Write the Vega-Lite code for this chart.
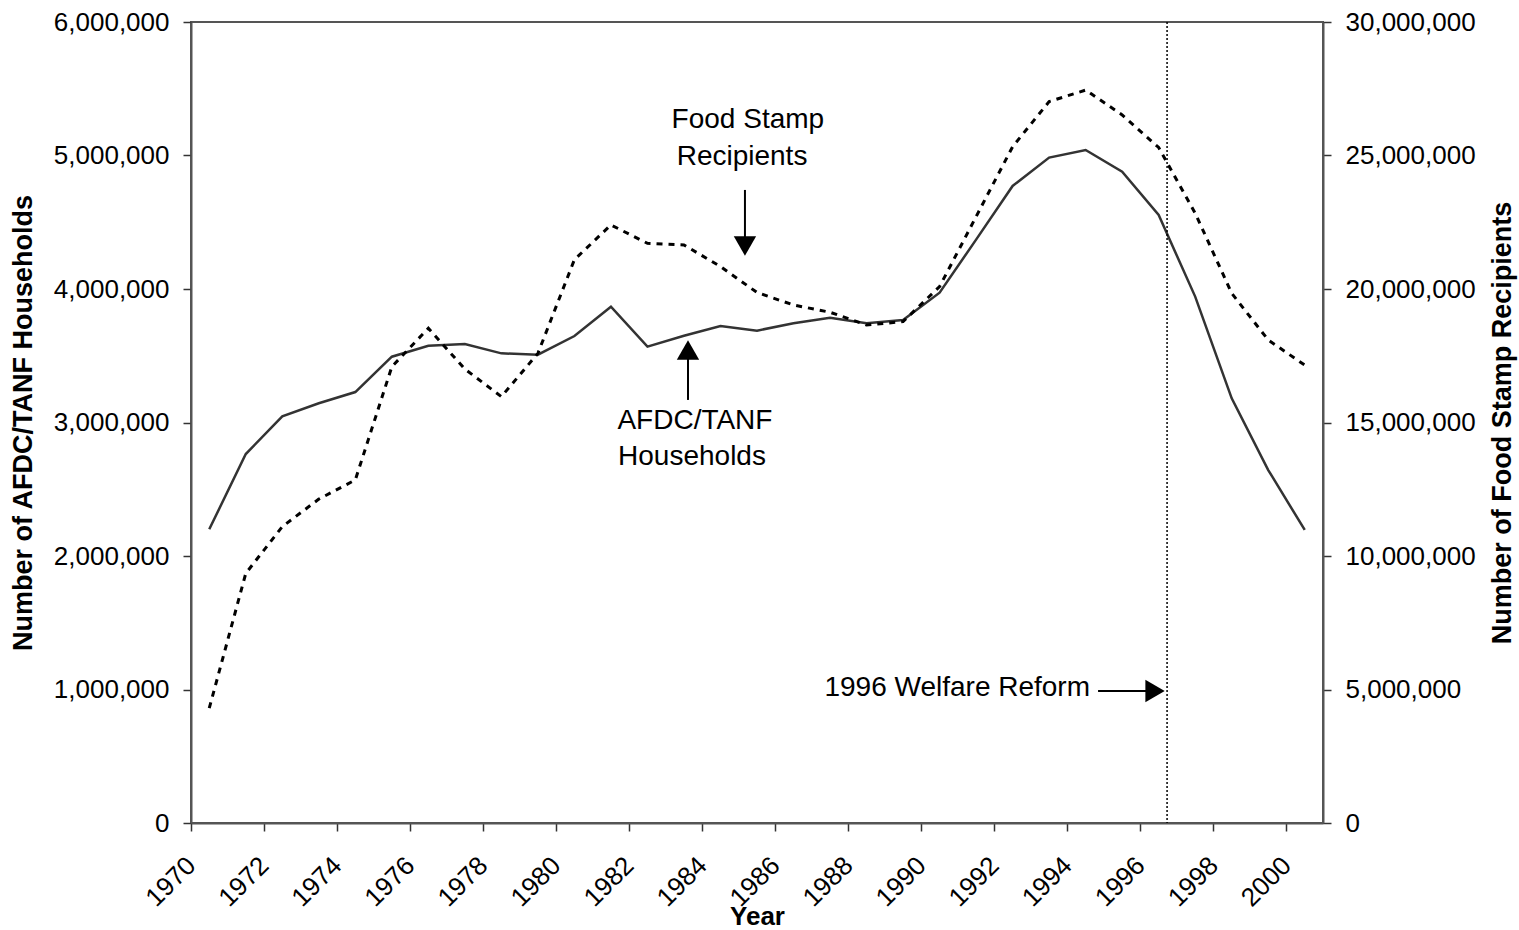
{
  "$schema": "https://vega.github.io/schema/vega-lite/v6.json",
  "width": 1132,
  "height": 801,
  "autosize": {"type": "none"},
  "padding": {"left": 191, "top": 22, "right": 196, "bottom": 107},
  "background": "white",
  "config": {
    "font": "Liberation Sans",
    "view": {"stroke": "#555555", "strokeWidth": 2},
    "axis": {
      "labelFont": "Liberation Sans",
      "titleFont": "Liberation Sans",
      "labelFontSize": 26,
      "titleFontSize": 27,
      "titleFontWeight": "bold",
      "labelColor": "#000000",
      "titleColor": "#000000",
      "domainColor": "#555555",
      "domainWidth": 2,
      "tickColor": "#333333",
      "tickWidth": 1.5,
      "tickSize": 8,
      "grid": false,
      "labelOverlap": false,
      "labelBound": false,
      "labelFlush": false
    }
  },
  "datasets": {
    "main": [
      {"year": 1970, "afdc": 2200000, "food": 4300000},
      {"year": 1971, "afdc": 2764000, "food": 9350000},
      {"year": 1972, "afdc": 3046000, "food": 11100000},
      {"year": 1973, "afdc": 3144000, "food": 12130000},
      {"year": 1974, "afdc": 3228000, "food": 12850000},
      {"year": 1975, "afdc": 3493000, "food": 17090000},
      {"year": 1976, "afdc": 3575000, "food": 18530000},
      {"year": 1977, "afdc": 3588000, "food": 17000000},
      {"year": 1978, "afdc": 3518000, "food": 15970000},
      {"year": 1979, "afdc": 3508000, "food": 17590000},
      {"year": 1980, "afdc": 3648000, "food": 21100000},
      {"year": 1981, "afdc": 3867000, "food": 22400000},
      {"year": 1982, "afdc": 3568000, "food": 21710000},
      {"year": 1983, "afdc": 3650000, "food": 21650000},
      {"year": 1984, "afdc": 3723000, "food": 20840000},
      {"year": 1985, "afdc": 3688000, "food": 19870000},
      {"year": 1986, "afdc": 3743000, "food": 19400000},
      {"year": 1987, "afdc": 3785000, "food": 19130000},
      {"year": 1988, "afdc": 3743000, "food": 18650000},
      {"year": 1989, "afdc": 3768000, "food": 18780000},
      {"year": 1990, "afdc": 3972000, "food": 20090000},
      {"year": 1991, "afdc": 4370000, "food": 22710000},
      {"year": 1992, "afdc": 4772000, "food": 25330000},
      {"year": 1993, "afdc": 4984000, "food": 27020000},
      {"year": 1994, "afdc": 5041000, "food": 27450000},
      {"year": 1995, "afdc": 4879000, "food": 26520000},
      {"year": 1996, "afdc": 4554000, "food": 25300000},
      {"year": 1997, "afdc": 3943000, "food": 22840000},
      {"year": 1998, "afdc": 3181000, "food": 19840000},
      {"year": 1999, "afdc": 2644000, "food": 18090000},
      {"year": 2000, "afdc": 2195000, "food": 17150000}
    ],
    "reform": [{"year": 1996.23}],
    "labels": [
      {"year": 1984.75, "v": 5266000, "label": "Food Stamp"},
      {"year": 1984.59, "v": 4989000, "label": "Recipients"},
      {"year": 1983.30, "v": 3011000, "label": "AFDC/TANF"},
      {"year": 1983.22, "v": 2742000, "label": "Households"}
    ],
    "rlabel": [{"year": 1994.12, "v": 1011000, "label": "1996 Welfare Reform"}],
    "vshafts": [
      {"year": 1984.67, "v": 4742000, "v2": 4367000},
      {"year": 1983.11, "v": 3169000, "v2": 3506000}
    ],
    "hshafts": [{"year": 1994.34, "year2": 1995.76, "v": 989000}],
    "headsdown": [{"year": 1984.67, "v": 4322000}],
    "headsup": [{"year": 1983.11, "v": 3543000}],
    "headsright": [{"year": 1995.9, "v": 989000}]
  },
  "layer": [
    {
      "layer": [
        {
          "data": {"name": "main"},
          "mark": {"type": "line", "color": "#333333", "strokeWidth": 2.5},
          "encoding": {
            "x": {
              "field": "year", "type": "quantitative", "title": "Year",
              "scale": {"domain": [1969.5, 2000.5], "nice": false, "zero": false},
              "axis": {
                "values": [1969.5, 1970.5, 1971.5, 1972.5, 1973.5, 1974.5, 1975.5, 1976.5, 1977.5, 1978.5, 1979.5, 1980.5, 1981.5, 1982.5, 1983.5, 1984.5, 1985.5, 1986.5, 1987.5, 1988.5, 1989.5, 1990.5, 1991.5, 1992.5, 1993.5, 1994.5, 1995.5, 1996.5, 1997.5, 1998.5, 1999.5, 2000.5],
                "labelExpr": "(datum.value + 0.5) % 2 == 0 ? format(datum.value + 0.5, 'd') : ''",
                "labelAngle": -45,
                "labelAlign": "right",
                "labelBaseline": "middle",
                "labelPadding": 30,
                "titleFontSize": 26,
                "titlePadding": -8
              }
            },
            "y": {
              "field": "afdc", "type": "quantitative", "title": "Number of AFDC/TANF Households",
              "scale": {"domain": [0, 6000000], "nice": false},
              "axis": {
                "orient": "left",
                "values": [0, 1000000, 2000000, 3000000, 4000000, 5000000, 6000000],
                "format": ",d",
                "labelPadding": 14,
                "titlePadding": 16
              }
            }
          }
        },
        {
          "data": {"name": "reform"},
          "mark": {"type": "rule", "color": "#000000", "strokeWidth": 1.5, "strokeDash": [2, 2]},
          "encoding": {
            "x": {"field": "year", "type": "quantitative", "title": "Year"}
          }
        },
        {
          "data": {"name": "labels"},
          "mark": {"type": "text", "fontSize": 28, "align": "center", "baseline": "middle", "color": "#000000"},
          "encoding": {
            "x": {"field": "year", "type": "quantitative", "title": "Year"},
            "y": {"field": "v", "type": "quantitative", "title": "Number of AFDC/TANF Households"},
            "text": {"field": "label"}
          }
        },
        {
          "data": {"name": "rlabel"},
          "mark": {"type": "text", "fontSize": 28, "align": "right", "baseline": "middle", "color": "#000000"},
          "encoding": {
            "x": {"field": "year", "type": "quantitative", "title": "Year"},
            "y": {"field": "v", "type": "quantitative", "title": "Number of AFDC/TANF Households"},
            "text": {"field": "label"}
          }
        },
        {
          "data": {"name": "vshafts"},
          "mark": {"type": "rule", "color": "#000000", "strokeWidth": 2},
          "encoding": {
            "x": {"field": "year", "type": "quantitative", "title": "Year"},
            "y": {"field": "v", "type": "quantitative", "title": "Number of AFDC/TANF Households"},
            "y2": {"field": "v2"}
          }
        },
        {
          "data": {"name": "hshafts"},
          "mark": {"type": "rule", "color": "#000000", "strokeWidth": 2},
          "encoding": {
            "x": {"field": "year", "type": "quantitative", "title": "Year"},
            "x2": {"field": "year2"},
            "y": {"field": "v", "type": "quantitative", "title": "Number of AFDC/TANF Households"}
          }
        },
        {
          "data": {"name": "headsdown"},
          "mark": {"type": "point", "shape": "triangle-down", "filled": true, "color": "#000000", "size": 500, "opacity": 1},
          "encoding": {
            "x": {"field": "year", "type": "quantitative", "title": "Year"},
            "y": {"field": "v", "type": "quantitative", "title": "Number of AFDC/TANF Households"}
          }
        },
        {
          "data": {"name": "headsup"},
          "mark": {"type": "point", "shape": "triangle-up", "filled": true, "color": "#000000", "size": 500, "opacity": 1},
          "encoding": {
            "x": {"field": "year", "type": "quantitative", "title": "Year"},
            "y": {"field": "v", "type": "quantitative", "title": "Number of AFDC/TANF Households"}
          }
        },
        {
          "data": {"name": "headsright"},
          "mark": {"type": "point", "shape": "triangle-right", "filled": true, "color": "#000000", "size": 500, "opacity": 1},
          "encoding": {
            "x": {"field": "year", "type": "quantitative", "title": "Year"},
            "y": {"field": "v", "type": "quantitative", "title": "Number of AFDC/TANF Households"}
          }
        }
      ]
    },
    {
      "data": {"name": "main"},
      "mark": {"type": "line", "color": "#000000", "strokeWidth": 3, "strokeDash": [6, 6]},
      "encoding": {
        "x": {"field": "year", "type": "quantitative", "title": "Year"},
        "y": {
          "field": "food", "type": "quantitative", "title": "Number of Food Stamp Recipients",
          "scale": {"domain": [0, 30000000], "nice": false},
          "axis": {
            "orient": "right",
            "values": [0, 5000000, 10000000, 15000000, 20000000, 25000000, 30000000],
            "format": ",d",
            "labelPadding": 14,
            "titlePadding": 14,
            "titleAngle": -90,
            "titleBaseline": "top"
          }
        }
      }
    }
  ],
  "resolve": {"scale": {"y": "independent"}}
}
